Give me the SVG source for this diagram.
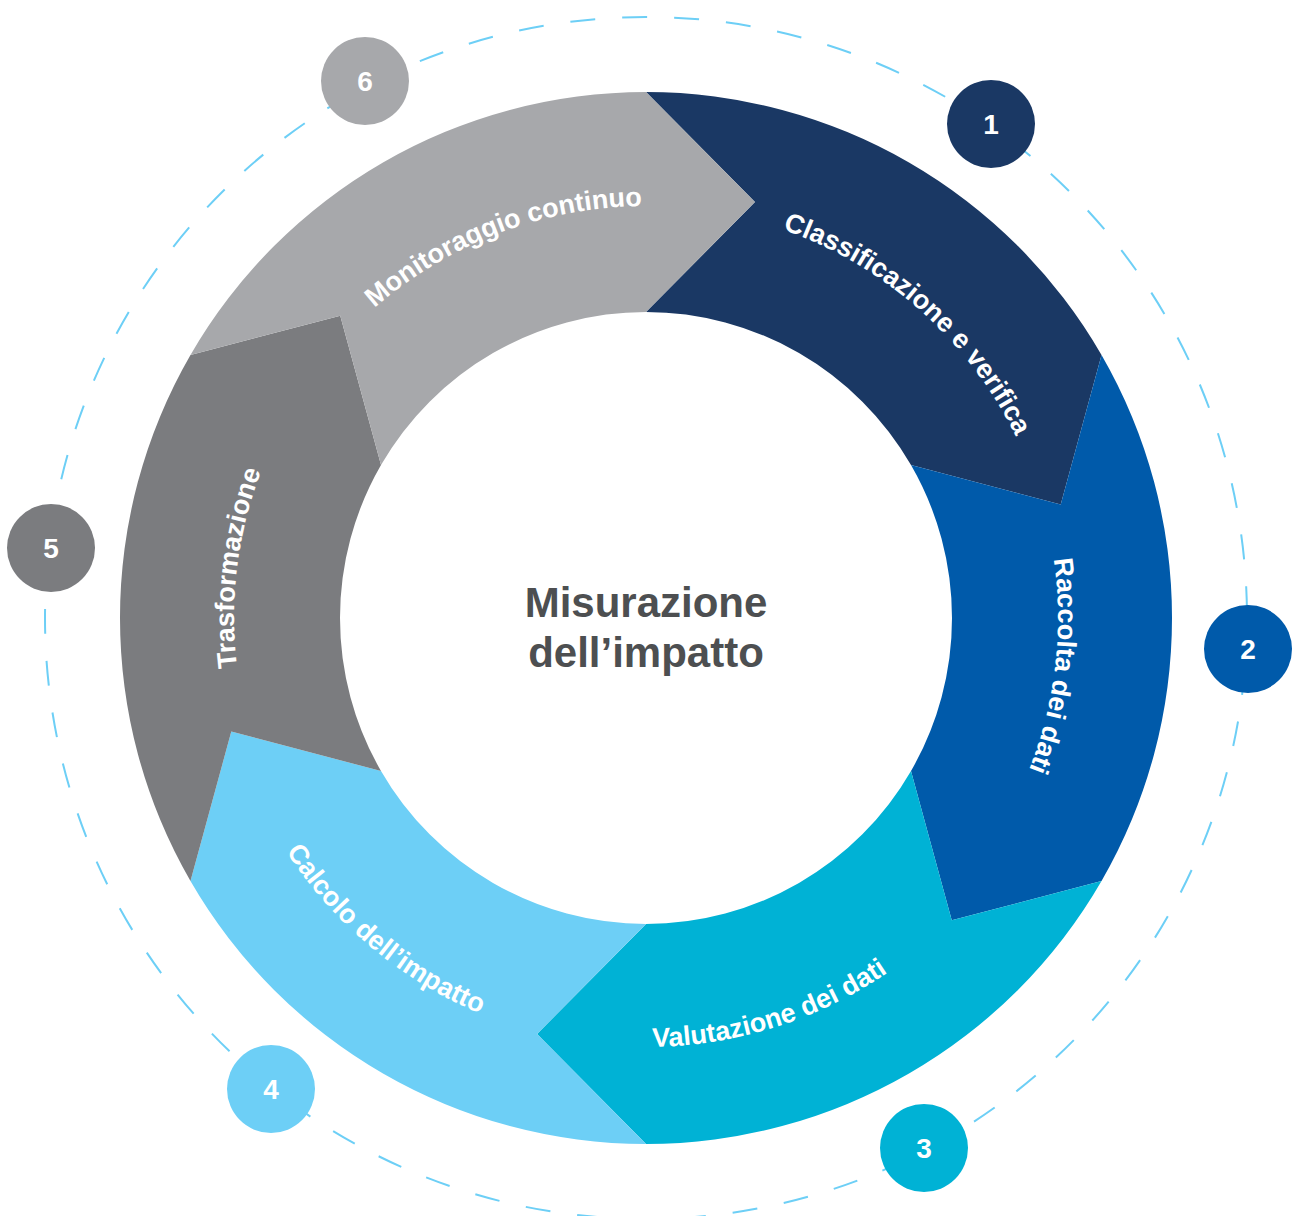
<svg xmlns="http://www.w3.org/2000/svg" xmlns:xlink="http://www.w3.org/1999/xlink" width="1298" height="1216" viewBox="0 0 1298 1216">
<style>
.lbl{font-family:"Liberation Sans",Arial,sans-serif;font-weight:bold;font-size:27px;fill:#ffffff}
.num{font-family:"Liberation Sans",Arial,sans-serif;font-weight:bold;font-size:28px;fill:#ffffff;text-anchor:middle}
.title{font-family:"Liberation Sans",Arial,sans-serif;font-weight:bold;font-size:42px;fill:#4d4f51;text-anchor:middle}
.orbit{fill:none;stroke:#6dcff6;stroke-width:2;stroke-dasharray:25 27}
</style>
<defs>
<path id="arcTop" d="M 258.85 477.09 A 412 412 0 0 1 1033.15 477.09"/>
<path id="arcBot" d="M 242.87 764.73 A 429 429 0 0 0 1049.13 764.73"/>
</defs>
<rect width="1298" height="1216" fill="#ffffff"/>
<g id="connectors">
<circle class="orbit" cx="646" cy="618" r="601"/>
</g>
<g id="node-1">
<path fill="#1a3864" d="M 646 92 A 526 526 0 0 1 1101.53 355 L 1060.71 504.39 L 911 465 A 306 306 0 0 0 646 312 L 754.96 202.04 Z"/>
<text class="lbl" transform="rotate(41.6 646 618)"><textPath xlink:href="#arcTop" href="#arcTop" startOffset="50%" text-anchor="middle">Classificazione e verifica</textPath></text>
</g>
<g id="node-2">
<path fill="#005aaa" d="M 1101.53 355 A 526 526 0 0 1 1101.53 881 L 951.75 920.35 L 911 771 A 306 306 0 0 0 911 465 L 1060.71 504.39 Z"/>
<text class="lbl" transform="rotate(96.7 646 618)"><textPath xlink:href="#arcTop" href="#arcTop" startOffset="50%" text-anchor="middle">Raccolta dei dati</textPath></text>
</g>
<g id="node-3">
<path fill="#00b2d5" d="M 1101.53 881 A 526 526 0 0 1 646 1144 L 537.04 1033.96 L 646 924 A 306 306 0 0 0 911 771 L 951.75 920.35 Z"/>
<text class="lbl" transform="rotate(-17.6 646 618)"><textPath xlink:href="#arcBot" href="#arcBot" startOffset="50%" text-anchor="middle">Valutazione dei dati</textPath></text>
</g>
<g id="node-4">
<path fill="#6dcff6" d="M 646 1144 A 526 526 0 0 1 190.47 881 L 231.29 731.61 L 381 771 A 306 306 0 0 0 646 924 L 537.04 1033.96 Z"/>
<text class="lbl" transform="rotate(39.9 646 618)"><textPath xlink:href="#arcBot" href="#arcBot" startOffset="50%" text-anchor="middle">Calcolo dell’impatto</textPath></text>
</g>
<g id="node-5">
<path fill="#7b7c7f" d="M 190.47 881 A 526 526 0 0 1 190.47 355 L 340.25 315.65 L 381 465 A 306 306 0 0 0 381 771 L 231.29 731.61 Z"/>
<text class="lbl" transform="rotate(-83 646 618)"><textPath xlink:href="#arcTop" href="#arcTop" startOffset="50%" text-anchor="middle">Trasformazione</textPath></text>
</g>
<g id="node-6">
<path fill="#a7a8ab" d="M 190.47 355 A 526 526 0 0 1 646 92 L 754.96 202.04 L 646 312 A 306 306 0 0 0 381 465 L 340.25 315.65 Z"/>
<text class="lbl" transform="rotate(-20.9 646 618)"><textPath xlink:href="#arcTop" href="#arcTop" startOffset="50%" text-anchor="middle">Monitoraggio continuo</textPath></text>
</g>
<g id="center">
<text class="title" x="646" y="617">Misurazione</text>
<text class="title" x="646" y="667">dell’impatto</text>
</g>
<g id="badge-1"><circle cx="991" cy="124" r="44" fill="#1a3864"/><text class="num" x="991" y="134">1</text></g>
<g id="badge-2"><circle cx="1248" cy="649" r="44" fill="#005aaa"/><text class="num" x="1248" y="659">2</text></g>
<g id="badge-3"><circle cx="924" cy="1148" r="44" fill="#00b2d5"/><text class="num" x="924" y="1158">3</text></g>
<g id="badge-4"><circle cx="271" cy="1089" r="44" fill="#6dcff6"/><text class="num" x="271" y="1099">4</text></g>
<g id="badge-5"><circle cx="51" cy="548" r="44" fill="#7b7c7f"/><text class="num" x="51" y="558">5</text></g>
<g id="badge-6"><circle cx="365" cy="81" r="44" fill="#a7a8ab"/><text class="num" x="365" y="91">6</text></g>
</svg>
